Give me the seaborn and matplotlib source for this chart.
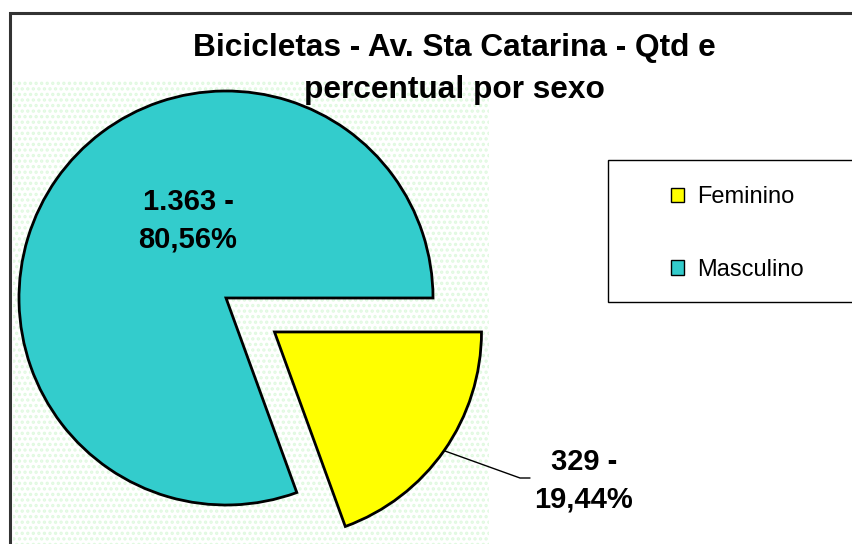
import matplotlib
matplotlib.use("Agg")
import matplotlib.pyplot as plt
from matplotlib.patches import Patch, Rectangle
import numpy as np
import seaborn as sns

# data
categories = ["Feminino", "Masculino"]
counts = [329, 1363]
colors = ["#FFFF00", "#33CCCC"]
explode = [0.286, 0.0]
title = "Bicicletas - Av. Sta Catarina - Qtd e\npercentual por sexo"

sns.set_theme(style="white")
plt.rcParams["font.family"] = ["Liberation Sans", "DejaVu Sans"]
plt.rcParams["hatch.linewidth"] = 1.6
plt.rcParams["text.color"] = "black"

W, H = 852, 544
fig = plt.figure(figsize=(W / 100, H / 100), dpi=100)
fig.patch.set_facecolor("white")


def fx(px):
    return px / W


def fy(py):
    return 1 - py / H


# outer chart border (only top-left part is visible)
fig.patches.append(Rectangle((fx(10), fy(700)), 1.5, fy(13) - fy(700), transform=fig.transFigure,
                             facecolor="none", edgecolor="#333333", linewidth=2.2, zorder=0))

# plot area
ax = fig.add_axes([fx(13), 0, fx(489) - fx(13), fy(81)])
ax.set_facecolor("white")
ax.add_patch(Rectangle((0, 0), 1, 1, transform=ax.transAxes, facecolor="white",
                       edgecolor="#e0f9e0", linewidth=0, hatch="...", zorder=0))

total = sum(counts)
pcts = [100.0 * c / total for c in counts]


def fmt(c, p):
    return f"{c:,}".replace(",", ".") + " -\n" + f"{p:.2f}%".replace(".", ",")


wedges, _ = ax.pie(counts, colors=colors, explode=explode, startangle=0, counterclock=False,
                   radius=1.0, wedgeprops=dict(edgecolor="black", linewidth=2.0))
for w in wedges:
    w.set_zorder(2)

# scale: 207 px per unit, centre at (226, 298) px
r_px = 207.0
ax.set_aspect("auto")
ax.set_xlim((13 - 226) / r_px, (489 - 226) / r_px)
ax.set_ylim((298 - 544) / r_px, (298 - 81) / r_px)
ax.axis("off")

# labels
ax.text((188 - 226) / r_px, (298 - 221) / r_px, fmt(counts[1], pcts[1]), ha="center", va="center",
        fontsize=21, fontweight="bold", color="black", linespacing=1.42, zorder=3)

wf = wedges[0]
mid = np.deg2rad((wf.theta1 + wf.theta2) / 2)
cx, cy = wf.center
p0 = (cx + np.cos(mid), cy + np.sin(mid))
elbow = ((520 - 226) / r_px, (298 - 478) / r_px)
end = ((530 - 226) / r_px, (298 - 478) / r_px)
ax.plot([p0[0], elbow[0], end[0]], [p0[1], elbow[1], end[1]], color="black", linewidth=1.0,
        clip_on=False, zorder=3)
ax.text((584 - 226) / r_px, (298 - 481) / r_px, fmt(counts[0], pcts[0]), ha="center", va="center",
        fontsize=21, fontweight="bold", color="black", linespacing=1.42, zorder=3, clip_on=False)

# title
fig.text(fx(454), fy(69), title, ha="center", va="center", fontsize=22.8, fontweight="bold",
         color="black", linespacing=1.55)

# legend box
fig.patches.append(Rectangle((fx(608), fy(302)), 0.5, fy(160) - fy(302), transform=fig.transFigure,
                             facecolor="white", edgecolor="black", linewidth=1.0, zorder=1))
handles = [Patch(facecolor=c, edgecolor="black", linewidth=1.0, label=l) for c, l in zip(colors, categories)]
leg = fig.legend(handles=handles, loc="upper left", bbox_to_anchor=(fx(671), fy(186)), frameon=False,
                 fontsize=17, handlelength=0.55, handleheight=0.55, handletextpad=0.55,
                 labelspacing=2.15, borderpad=0, borderaxespad=0)
for t in leg.get_texts():
    t.set_color("black")
leg.set_zorder(5)

fig.savefig("out.png", dpi=100)
